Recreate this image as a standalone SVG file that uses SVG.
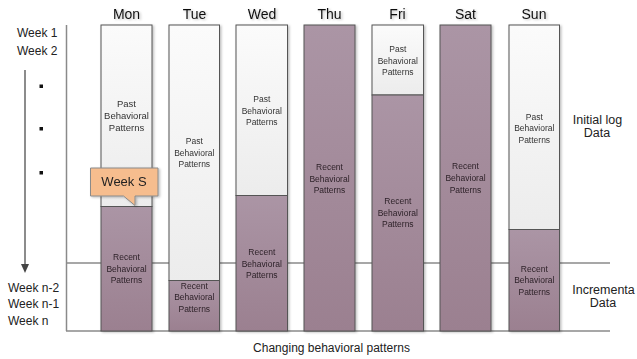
<svg xmlns="http://www.w3.org/2000/svg" width="637" height="359" viewBox="0 0 637 359">
<style>
.frame{stroke:#8a8a8a;stroke-width:1.5;fill:none}
.past{fill:url(#gPast);stroke:#555;stroke-width:1}
.recent{fill:url(#gRecent);stroke:#555;stroke-width:1}
.day{font-family:"Liberation Sans",Arial,sans-serif;font-size:14px;fill:#111;text-anchor:middle}
.wk{font-family:"Liberation Sans",Arial,sans-serif;font-size:12px;fill:#222}
.lbl{font-family:"Liberation Sans",Arial,sans-serif;font-size:8.5px;fill:#333;text-anchor:middle}
.rlbl{font-family:"Liberation Sans",Arial,sans-serif;font-size:8.5px;fill:#2e2229;text-anchor:middle}
.side{font-family:"Liberation Sans",Arial,sans-serif;font-size:12.5px;fill:#222;text-anchor:middle}
.cap{font-family:"Liberation Sans",Arial,sans-serif;font-size:12px;fill:#222;text-anchor:middle}
</style>
<defs>
<linearGradient id="gPast" x1="0" y1="0" x2="0" y2="1"><stop offset="0" stop-color="#fbfbfb"/><stop offset="1" stop-color="#ececec"/></linearGradient>
<linearGradient id="gRecent" x1="0" y1="0" x2="0" y2="1"><stop offset="0" stop-color="#ab95a5"/><stop offset="1" stop-color="#9b8090"/></linearGradient>
<marker id="ah" markerWidth="9" markerHeight="8" refX="1" refY="4" orient="auto" markerUnits="userSpaceOnUse"><path d="M0,0 L9,4 L0,8 Z" fill="#444"/></marker>
<filter id="sh" x="-10%" y="-10%" width="130%" height="130%"><feDropShadow dx="1.5" dy="1" stdDeviation="0.8" flood-color="#000" flood-opacity="0.25"/></filter>
</defs>
<rect width="637" height="359" fill="#fff"/>

<g id="frame">
<line class="frame" x1="66.5" y1="25" x2="66.5" y2="331"/>
<line class="frame" x1="66" y1="263" x2="610" y2="263"/>
<line class="frame" x1="66" y1="331" x2="610" y2="331"/>
</g>

<g id="connectors">
<line x1="25" y1="70" x2="25" y2="265" stroke="#666" stroke-width="1.5" marker-end="url(#ah)"/>
</g>

<g id="weeks">
<text class="wk" x="17" y="36.5">Week 1</text>
<text class="wk" x="17" y="55">Week 2</text>
<rect x="39.5" y="84.5" width="3.5" height="3.5" fill="#111"/>
<rect x="39.5" y="127" width="3.5" height="3.5" fill="#111"/>
<rect x="39.5" y="171" width="3.5" height="3.5" fill="#111"/>
<text class="wk" x="8" y="292">Week n-2</text>
<text class="wk" x="8" y="308">Week n-1</text>
<text class="wk" x="8" y="324.5">Week n</text>
</g>

<g id="mon" filter="url(#sh)">
<text class="day" x="126.5" y="18.5">Mon</text>
<rect class="past" x="101" y="25" width="51" height="181.5"/>
<rect class="recent" x="101" y="206.5" width="51" height="124.5"/>
<text class="lbl" x="126.5" style="font-size:9.5px"><tspan x="126.5" y="106.5">Past</tspan><tspan x="126.5" y="118.5">Behavioral</tspan><tspan x="126.5" y="130.5">Patterns</tspan></text>
<text class="rlbl" x="126.5"><tspan x="126.5" y="260">Recent</tspan><tspan x="126.5" y="271.5">Behavioral</tspan><tspan x="126.5" y="283">Patterns</tspan></text>
</g>

<g id="tue" filter="url(#sh)">
<text class="day" x="194.5" y="19">Tue</text>
<rect class="past" x="169" y="25" width="50.5" height="255.5"/>
<rect class="recent" x="169" y="280.5" width="50.5" height="50.5"/>
<text class="lbl"><tspan x="194.3" y="144">Past</tspan><tspan x="194.3" y="156">Behavioral</tspan><tspan x="194.3" y="167">Patterns</tspan></text>
<text class="rlbl"><tspan x="194.3" y="289">Recent</tspan><tspan x="194.3" y="300">Behavioral</tspan><tspan x="194.3" y="312">Patterns</tspan></text>
</g>

<g id="wed" filter="url(#sh)">
<text class="day" x="262" y="19">Wed</text>
<rect class="past" x="236" y="25" width="51.5" height="170.5"/>
<rect class="recent" x="236" y="195.5" width="51.5" height="135.5"/>
<text class="lbl"><tspan x="261.8" y="102">Past</tspan><tspan x="261.8" y="113.5">Behavioral</tspan><tspan x="261.8" y="125">Patterns</tspan></text>
<text class="rlbl"><tspan x="261.8" y="255">Recent</tspan><tspan x="261.8" y="266.5">Behavioral</tspan><tspan x="261.8" y="278">Patterns</tspan></text>
</g>

<g id="thu" filter="url(#sh)">
<text class="day" x="329.5" y="19">Thu</text>
<rect class="recent" x="304" y="25" width="51" height="306"/>
<text class="rlbl"><tspan x="329.5" y="170">Recent</tspan><tspan x="329.5" y="181.5">Behavioral</tspan><tspan x="329.5" y="193">Patterns</tspan></text>
</g>

<g id="fri" filter="url(#sh)">
<text class="day" x="397.5" y="19">Fri</text>
<rect class="past" x="372" y="25" width="51.5" height="70"/>
<rect class="recent" x="372" y="95" width="51.5" height="236"/>
<text class="lbl"><tspan x="397.8" y="52">Past</tspan><tspan x="397.8" y="64">Behavioral</tspan><tspan x="397.8" y="75">Patterns</tspan></text>
<text class="rlbl"><tspan x="397.8" y="204">Recent</tspan><tspan x="397.8" y="215.5">Behavioral</tspan><tspan x="397.8" y="227">Patterns</tspan></text>
</g>

<g id="sat" filter="url(#sh)">
<text class="day" x="465.5" y="19">Sat</text>
<rect class="recent" x="440" y="25" width="51" height="306"/>
<text class="rlbl"><tspan x="465.5" y="169">Recent</tspan><tspan x="465.5" y="181">Behavioral</tspan><tspan x="465.5" y="193">Patterns</tspan></text>
</g>

<g id="sun" filter="url(#sh)">
<text class="day" x="534" y="19">Sun</text>
<rect class="past" x="509" y="25" width="50.5" height="204.5"/>
<rect class="recent" x="509" y="229.5" width="50.5" height="101.5"/>
<text class="lbl"><tspan x="534.3" y="120">Past</tspan><tspan x="534.3" y="131">Behavioral</tspan><tspan x="534.3" y="142.5">Patterns</tspan></text>
<text class="rlbl"><tspan x="534.3" y="272">Recent</tspan><tspan x="534.3" y="283">Behavioral</tspan><tspan x="534.3" y="295">Patterns</tspan></text>
</g>

<g id="weekS" filter="url(#sh)">
<path d="M90.5,168 H158 V196 H135 V205.5 L123.5,196 H90.5 Z" fill="#f6bd8e" stroke="#8a8a8a" stroke-width="1"/>
<text x="124" y="186" style="font-family:'Liberation Sans',Arial,sans-serif;font-size:13px;fill:#222;text-anchor:middle">Week S</text>
</g>

<g id="initial">
<text class="side"><tspan x="597.5" y="123.5">Initial log</tspan><tspan x="597" y="137">Data</tspan></text>
</g>
<g id="incremental">
<text class="side"><tspan x="603.5" y="293.5">Incrementa</tspan><tspan x="603" y="307">Data</tspan></text>
</g>

<text class="cap" x="331.5" y="352">Changing behavioral patterns</text>
</svg>
